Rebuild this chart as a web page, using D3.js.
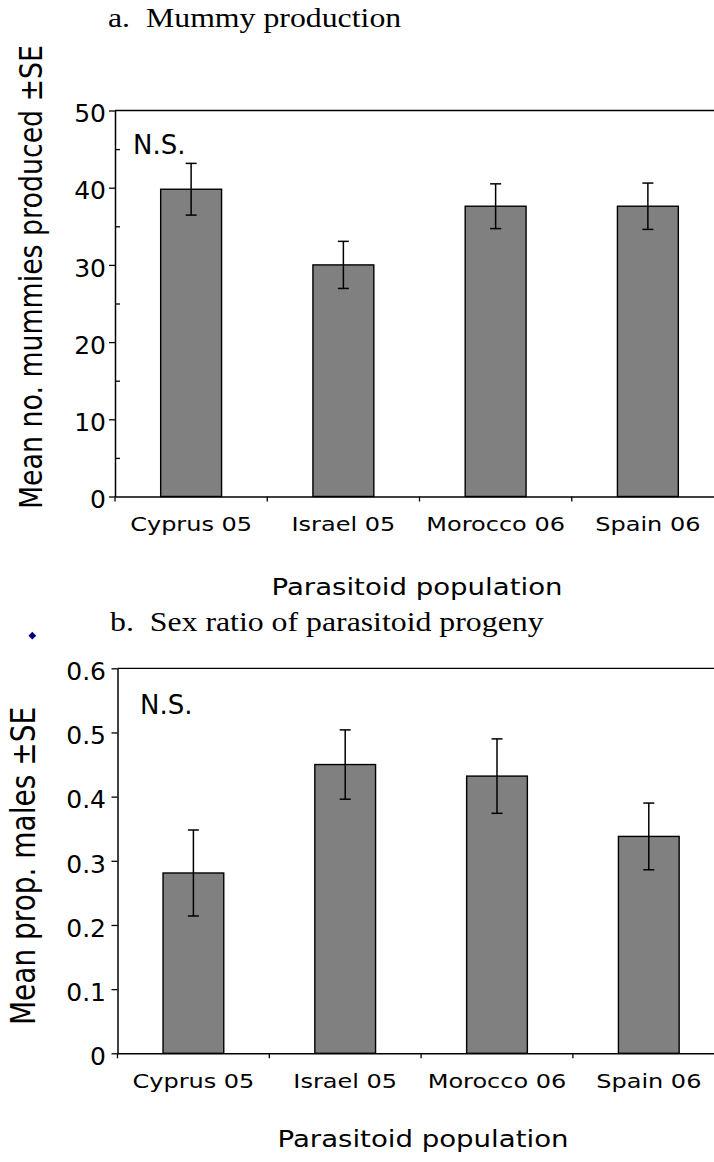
<!DOCTYPE html>
<html>
<head>
<meta charset="utf-8">
<script src="https://cdn.jsdelivr.net/npm/d3@7"></script>
<style>
  body { margin: 0; background: #fff; }
  svg { display: block; }
</style>
</head>
<body>
<div id="chart"></div>
<script>
const categories = ["Cyprus 05", "Israel 05", "Morocco 06", "Spain 06"];

// panel a: mummies produced
const mummyMean = [39.8, 30.0, 37.6, 37.6];
const mummySE = [3.35, 3.05, 2.9, 3.0];
const mummyTicks = [0, 10, 20, 30, 40, 50];
const mummyMinor = [5, 15, 25, 35, 45];

// panel b: proportion of males
const maleMean = [0.281, 0.450, 0.432, 0.338];
const maleSE = [0.067, 0.054, 0.058, 0.052];
const maleTicks = [0, 0.1, 0.2, 0.3, 0.4, 0.5, 0.6];

const width = 714, height = 1162;
const SANS = "'Comic Sans MS', 'DejaVu Sans', sans-serif";
const SERIF = "'Times New Roman', 'Liberation Serif', serif";
const SX = 1.2; // the original picture is a bit wider than tall

const svg = d3.select("#chart").append("svg")
  .attr("width", width)
  .attr("height", height);

function label(g, txt, x, y, opts) {
  const o = Object.assign({ size: 20, family: SANS, anchor: "middle", sx: SX, rotate: 0 }, opts);
  return g.append("text")
    .attr("transform", `translate(${x},${y}) scale(${o.sx},1)` + (o.rotate ? ` rotate(${o.rotate})` : ""))
    .attr("font-family", o.family)
    .attr("font-size", o.size)
    .attr("text-anchor", o.anchor)
    .attr("fill", "#000")
    .text(txt);
}

function drawPanel(p) {
  const g = svg.append("g");

  const x = d3.scaleBand()
    .domain(categories)
    .range([p.left, p.right])
    .paddingInner(0.6)
    .paddingOuter(0.3);

  const y = d3.scaleLinear()
    .domain(p.domain)
    .range([p.bottom, p.top]);

  // top border of plot area
  g.append("line")
    .attr("x1", p.left).attr("x2", p.right)
    .attr("y1", y(p.domain[1])).attr("y2", y(p.domain[1]))
    .attr("stroke", "#000").attr("stroke-width", 1.3);

  // bars
  g.selectAll("rect.bar")
    .data(categories)
    .join("rect")
    .attr("class", "bar")
    .attr("x", d => x(d))
    .attr("width", x.bandwidth())
    .attr("y", (d, i) => y(p.mean[i]))
    .attr("height", (d, i) => y(0) - y(p.mean[i]))
    .attr("fill", "#808080")
    .attr("stroke", "#000")
    .attr("stroke-width", 1.4);

  // error bars
  const cap = 5.5;
  const eb = g.selectAll("g.err")
    .data(categories)
    .join("g")
    .attr("class", "err")
    .attr("stroke", "#000")
    .attr("stroke-width", 1.5);
  eb.append("line")
    .attr("x1", d => x(d) + x.bandwidth() / 2)
    .attr("x2", d => x(d) + x.bandwidth() / 2)
    .attr("y1", (d, i) => y(p.mean[i] + p.se[i]))
    .attr("y2", (d, i) => y(p.mean[i] - p.se[i]));
  [1, -1].forEach(s => {
    eb.append("line")
      .attr("x1", d => x(d) + x.bandwidth() / 2 - cap)
      .attr("x2", d => x(d) + x.bandwidth() / 2 + cap)
      .attr("y1", (d, i) => y(p.mean[i] + s * p.se[i]))
      .attr("y2", (d, i) => y(p.mean[i] + s * p.se[i]));
  });

  // y axis
  const yAxis = g.append("g")
    .attr("transform", `translate(${p.left},0)`)
    .call(d3.axisLeft(y)
      .tickValues(p.ticks)
      .tickFormat(d => d === 0 ? "0" : p.fmt(d))
      .tickSize(6)
      .tickSizeOuter(0)
      .tickPadding(p.tickPad));
  yAxis.select(".domain").attr("stroke-width", 1.5);
  yAxis.selectAll(".tick line").attr("stroke-width", 1.3);
  yAxis.selectAll(".tick text")
    .attr("font-family", SANS)
    .attr("font-size", 25)
    .attr("dy", "0.45em");

  if (p.minor) {
    g.append("g")
      .attr("transform", `translate(${p.left},0)`)
      .call(d3.axisRight(y).tickValues(p.minor).tickSize(5).tickFormat(""))
      .call(s => s.select(".domain").remove())
      .selectAll(".tick line").attr("stroke-width", 1.3);
  }

  // x axis line + category labels
  const xAxis = g.append("g")
    .attr("transform", `translate(0,${p.bottom})`)
    .call(d3.axisBottom(x).tickSize(0).tickSizeOuter(0).tickPadding(0));
  xAxis.select(".domain").attr("stroke-width", 1.5);
  xAxis.selectAll(".tick text")
    .attr("y", 35)
    .attr("dy", null)
    .attr("font-family", SANS)
    .attr("font-size", 20)
    .attr("transform", `scale(${SX},1)`);

  // tick marks between categories
  const bounds = categories.map(d => x(d) - (x.step() - x.bandwidth()) / 2);
  g.selectAll("line.xt")
    .data(bounds)
    .join("line")
    .attr("class", "xt")
    .attr("x1", d => d).attr("x2", d => d)
    .attr("y1", p.bottom).attr("y2", p.bottom + 5)
    .attr("stroke", "#000").attr("stroke-width", 1.3);

  // texts
  label(g, p.title, p.titleX, p.titleY, { family: SERIF, size: 26.5, anchor: "start" });
  label(g, p.yTitle, p.yTitleX, p.yTitleY, { size: p.yTitleSize, rotate: -90 });
  label(g, "Parasitoid population", p.xTitleX, p.xTitleY, { size: 23 });
  label(g, "N.S.", p.nsX, p.nsY, { size: 26, anchor: "start", sx: 1 });
}

drawPanel({
  left: 115, right: 724, top: 110.5, bottom: 496.5,
  domain: [0, 50], mean: mummyMean, se: mummySE,
  ticks: mummyTicks, minor: mummyMinor, fmt: d3.format("d"), tickPad: 3,
  title: "a.\u00a0 Mummy production", titleX: 108, titleY: 27,
  yTitle: "Mean no. mummies produced ±SE", yTitleX: 41.5, yTitleY: 277, yTitleSize: 26.8,
  xTitleX: 417, xTitleY: 595,
  nsX: 133, nsY: 154
});

drawPanel({
  left: 117.5, right: 724.7, top: 668.3, bottom: 1053.3,
  domain: [0, 0.6], mean: maleMean, se: maleSE,
  ticks: maleTicks, minor: null, fmt: d3.format(".1f"), tickPad: 5.5,
  title: "b.\u00a0 Sex ratio of parasitoid progeny", titleX: 110, titleY: 631,
  yTitle: "Mean prop. males ±SE", yTitleX: 35, yTitleY: 866, yTitleSize: 28,
  xTitleX: 423, xTitleY: 1147,
  nsX: 140, nsY: 714
});

// stray marker left of panel b title
svg.append("path")
  .attr("d", d3.symbol(d3.symbolSquare, 30)())
  .attr("transform", "translate(32.3,635.7) rotate(45)")
  .attr("fill", "#000080");
</script>
</body>
</html>
